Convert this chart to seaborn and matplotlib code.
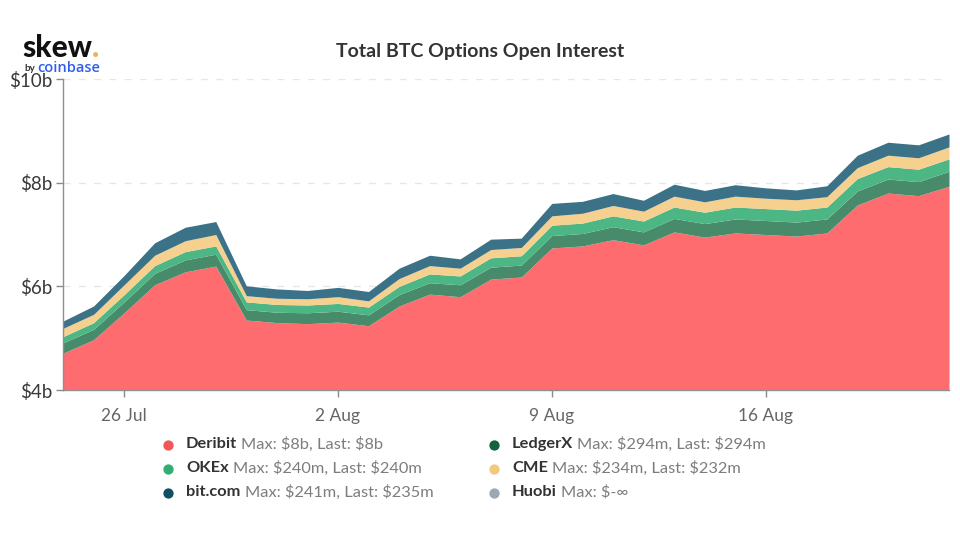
# Total BTC options open interest, stacked area
import pandas as pd
import matplotlib.pyplot as plt
import matplotlib.dates as mdates
import seaborn as sns

# --- data, $b per day ---
dates = pd.date_range("2021-07-24", periods=30, freq="D")
deribit = [4.71, 4.97, 5.49, 6.03, 6.28, 6.39, 5.35, 5.30, 5.28, 5.31,
           5.24, 5.62, 5.85, 5.80, 6.14, 6.18, 6.74, 6.78, 6.90, 6.80,
           7.05, 6.95, 7.03, 7.00, 6.97, 7.03, 7.57, 7.80, 7.75, 7.93]
ledgerx = [0.20, 0.20, 0.21, 0.22, 0.23, 0.23, 0.20, 0.20, 0.21, 0.21,
           0.21, 0.22, 0.22, 0.23, 0.23, 0.23, 0.24, 0.24, 0.25, 0.25,
           0.26, 0.26, 0.27, 0.27, 0.27, 0.27, 0.27, 0.27, 0.27, 0.29]
okex = [0.12, 0.13, 0.14, 0.15, 0.16, 0.16, 0.15, 0.15, 0.15, 0.15,
        0.15, 0.16, 0.17, 0.17, 0.18, 0.18, 0.20, 0.20, 0.21, 0.21,
        0.22, 0.22, 0.23, 0.23, 0.23, 0.23, 0.24, 0.24, 0.24, 0.24]
cme = [0.16, 0.16, 0.19, 0.20, 0.21, 0.22, 0.12, 0.12, 0.12, 0.13,
       0.12, 0.15, 0.16, 0.15, 0.16, 0.16, 0.18, 0.19, 0.20, 0.19,
       0.21, 0.20, 0.21, 0.20, 0.20, 0.20, 0.21, 0.22, 0.22, 0.23]
bitcom = [0.14, 0.16, 0.18, 0.24, 0.26, 0.25, 0.19, 0.18, 0.16, 0.18,
          0.18, 0.20, 0.20, 0.18, 0.20, 0.18, 0.24, 0.23, 0.23, 0.21,
          0.23, 0.22, 0.22, 0.20, 0.19, 0.21, 0.24, 0.25, 0.25, 0.25]

y_ticks = [4, 6, 8, 10]
x_ticks = ["2021-07-26", "2021-08-02", "2021-08-09", "2021-08-16"]

legend_names = ["Deribit", "LedgerX", "OKEx", "CME", "bit.com", "Huobi"]
legend_stats = ["Max: $8b, Last: $8b", "Max: $294m, Last: $294m",
                "Max: $240m, Last: $240m", "Max: $234m, Last: $232m",
                "Max: $241m, Last: $235m", "Max: $-∞"]
legend_colors = ["#f25757", "#14633f", "#2fae72", "#f2c97d", "#124f66", "#9aa7b5"]
area_colors = ["#ff6c70", "#478b6b", "#4db685", "#f6d08f", "#3b7287"]

sns.set_theme(style="white")
plt.rcParams["font.family"] = ["Lato", "DejaVu Sans"]
plt.rcParams["text.parse_math"] = False

fig = plt.figure(figsize=(9.6, 5.36), dpi=100)
ax = fig.add_axes([63 / 960, 1 - 390 / 536, 886 / 960, 311 / 536])

# --- stacked areas ---
ax.stackplot(dates, deribit, ledgerx, okex, cme, bitcom,
             colors=area_colors, linewidth=0, zorder=3)

ax.set_ylim(4, 10)
ax.set_xlim(dates[0], dates[-1])
ax.set_yticks(y_ticks)
ax.set_yticklabels([f"${v}b" for v in y_ticks], fontsize=13.5, color="#3a3a3a")
ax.set_xticks(pd.to_datetime(x_ticks))
ax.xaxis.set_major_formatter(mdates.DateFormatter("%-d %b"))
ax.tick_params(axis="x", length=5, width=1, color="#8a8a8a", labelsize=12.5,
               labelcolor="#666666", pad=8, bottom=True)
ax.tick_params(axis="y", length=5, width=1, color="#8a8a8a", pad=3, left=True)
ax.grid(axis="y", color="#e6e6e6", linewidth=1, linestyle=(0, (5, 6)), zorder=1)
sns.despine(ax=ax)
for side in ["left", "bottom"]:
    ax.spines[side].set_color("#8f8f8f")
    ax.spines[side].set_linewidth(1)
    ax.spines[side].set_zorder(4)

# --- overlay in pixel coordinates for title, logo, legend ---
over = fig.add_axes([0, 0, 1, 1], facecolor="none")

over.text(480, 52, "Total BTC Options Open Interest", ha="center", va="center",
          fontsize=14, fontweight="bold", color="#333333")

over.text(22, 57, "skew", ha="left", va="baseline", fontsize=21.5,
          fontweight="black", color="#111111")
over.text(92, 57, ".", ha="left", va="baseline", fontsize=22,
          fontweight="black", color="#eab35c")
over.text(24, 71, "by", ha="left", va="baseline", fontsize=7,
          fontweight="bold", color="#333333")
over.text(37, 71.5, "coinbase", ha="left", va="baseline", fontsize=10.5,
          fontweight="semibold", color="#2f5fe8", family=["Open Sans", "DejaVu Sans"])

# --- legend: two columns, three rows ---
for i, (name, stat, color) in enumerate(zip(legend_names, legend_stats, legend_colors)):
    col, row = i % 2, i // 2
    x = 168 + col * 326
    y = 445 + row * 24
    sns.scatterplot(x=[x], y=[y], ax=over, color=color, s=55, linewidth=0, legend=False)
    label = over.text(x + 18, y - 1, name, ha="left", va="center", fontsize=11.8,
                      fontweight="bold", color="#333333")
    over.annotate(stat, xy=(1, 0.5), xycoords=label, xytext=(3, 0),
                  textcoords="offset points", ha="left", va="center",
                  fontsize=11.8, color="#7d7d7d")
over.set_xlim(0, 960)
over.set_ylim(536, 0)
over.axis("off")

fig.savefig("out.png", dpi=100)
